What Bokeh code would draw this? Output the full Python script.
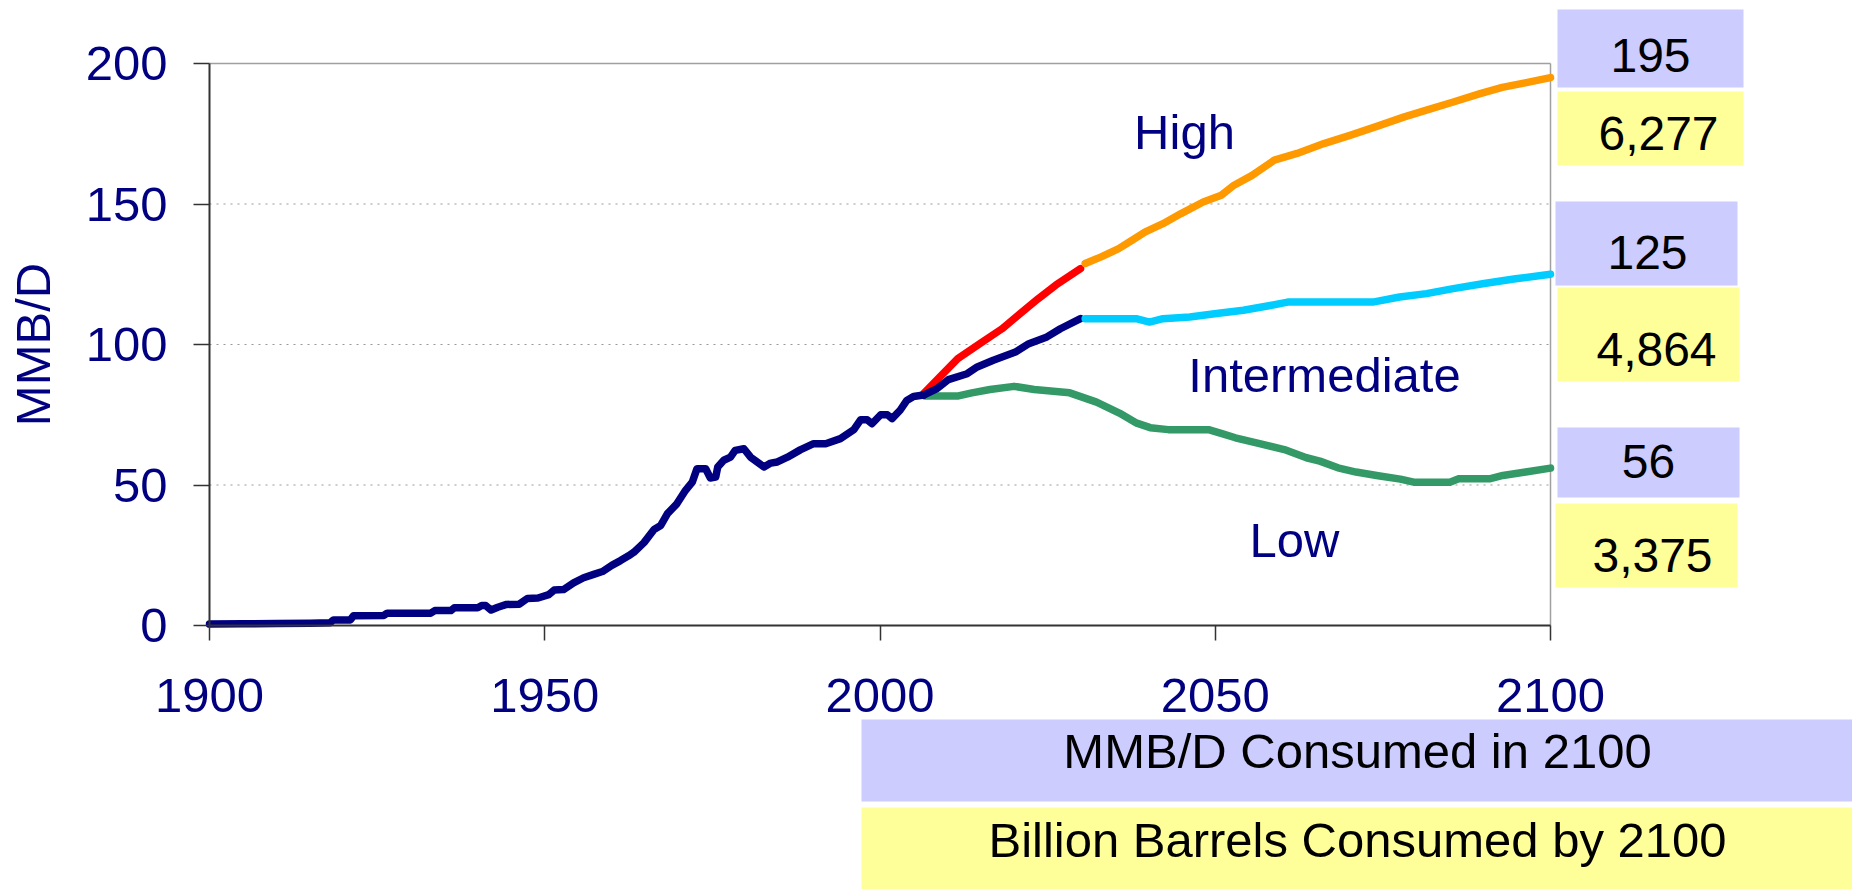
from bokeh.plotting import figure
from bokeh.models import FixedTicker, BoxAnnotation, Label, Range1d, LinearAxis
from bokeh.embed import file_html
from bokeh.resources import INLINE

# ---------------- data ----------------
hist_year = [1900, 1905, 1910, 1915, 1918, 1918.5, 1921, 1921.5, 1926, 1926.5, 1933, 1933.6,
             1936, 1936.5, 1940, 1940.6, 1941.2, 1942, 1943, 1944.3, 1946.2, 1947.4, 1949,
             1950.6, 1951.4, 1952.8, 1954.3, 1955.8, 1957.3, 1958.6, 1960, 1961.3, 1962.5,
             1963.3, 1964.8, 1966.3, 1967.3, 1968.3, 1969.7, 1971, 1972, 1972.7, 1974,
             1974.7, 1975.5, 1975.8, 1976.7, 1977.7, 1978.4, 1979.7, 1980.7, 1982.7, 1983.7,
             1984.7, 1986.2, 1988.1, 1990.1, 1991.9, 1994.1, 1996.1, 1997.1, 1998.1, 1998.8,
             2000.1, 2001.1, 2001.8, 2003, 2004, 2005, 2006.5]
hist_val = [0.5, 0.6, 0.7, 0.8, 1.0, 2.0, 2.0, 3.5, 3.6, 4.4, 4.4, 5.3,
            5.3, 6.3, 6.3, 7.1, 7.1, 5.5, 6.5, 7.5, 7.6, 9.6, 9.8,
            11.0, 12.6, 12.8, 15.2, 17.0, 18.2, 19.2, 21.4, 23.1, 24.8,
            26.1, 29.5, 34.2, 35.6, 39.8, 43.3, 48.1, 51.0, 55.8, 55.8,
            52.5, 52.8, 56.4, 58.8, 59.9, 62.3, 62.9, 59.9, 56.4, 57.8,
            58.2, 59.9, 62.5, 64.7, 64.7, 66.5, 69.7, 73.2, 73.2, 71.8,
            75.0, 75.0, 73.6, 76.6, 80.1, 81.5, 82.0]

# High scenario: rapid growth to 2030 (red), then orange to 2100
high_a_year = [2006.5, 2008.9, 2011.6, 2014.9, 2018.2, 2020.9, 2023.6, 2026.2, 2029.9]
high_a_val = [82.5, 88.4, 95.0, 100.3, 105.6, 111.0, 116.3, 121.1, 127.0]
high_b_year = [2030.6, 2032.9, 2035.6, 2037.6, 2039.5, 2042.2, 2044.9, 2048.2, 2050.9,
               2052.8, 2055.5, 2058.8, 2062.2, 2066.2, 2070.2, 2074.2, 2078.2, 2081.5,
               2085.5, 2089.5, 2092.8, 2096.2, 2100]
high_b_val = [128.8, 131.1, 134.1, 137.1, 140.0, 143.0, 146.6, 150.7, 153.1,
              156.7, 160.2, 165.6, 168.0, 171.5, 174.5, 177.7, 181.0, 183.4,
              186.3, 189.3, 191.5, 193.1, 195.0]

# Intermediate scenario: navy to 2030, then light blue to 2100
int_a_year = [2006.5, 2008.5, 2010.2, 2013.0, 2014.5, 2016.9, 2020.2, 2022.2, 2024.9, 2026.9, 2029.9]
int_a_val = [82.0, 84.3, 87.5, 89.6, 92.0, 94.4, 97.3, 100.3, 102.7, 105.6, 109.2]
int_b_year = [2030.6, 2038.2, 2040.2, 2042.2, 2046.2, 2050.2, 2054.2, 2058.2, 2060.8,
              2073.5, 2077.5, 2081.5, 2085.5, 2090.1, 2094.8, 2100]
int_b_val = [109.2, 109.2, 108.0, 109.2, 109.8, 111.0, 112.2, 113.9, 115.1,
             115.1, 116.9, 118.1, 119.9, 121.7, 123.4, 125.0]

# Low scenario
low_year = [2006.7, 2011.7, 2013.7, 2016.4, 2020.0, 2023.0, 2028.3, 2032.3, 2035.7, 2038.3,
            2040.3, 2043.0, 2049.0, 2051.0, 2053.0, 2056.3, 2060.3, 2063.6, 2065.6, 2068.3,
            2071.0, 2074.3, 2077.6, 2079.6, 2085.0, 2086.3, 2090.9, 2092.9, 2096.3, 2100]
low_val = [81.7, 81.7, 82.8, 84.0, 85.1, 84.0, 82.8, 79.5, 75.6, 72.0,
           70.4, 69.7, 69.7, 68.3, 66.8, 64.9, 62.6, 59.7, 58.5, 56.1,
           54.6, 53.3, 52.1, 51.0, 51.0, 52.2, 52.2, 53.4, 54.6, 56.0]

scenarios = ["High", "Intermediate", "Low"]
mmbd_2100 = [195, 125, 56]
bbl_by_2100 = [6277, 4864, 3375]
x_ticks = [1900, 1950, 2000, 2050, 2100]
y_ticks = [0, 50, 100, 150, 200]
grid_ticks = [50, 100, 150]
y_title = "MMB/D"
caption_rate = "MMB/D Consumed in 2100"
caption_total = "Billion Barrels Consumed by 2100"

# ---------------- style / layout ----------------
FONT = "Liberation Sans"
NAVY = "#000080"
LAV = "#CCCCFF"
YEL = "#FFFF99"
W, H = 1852, 889
# chart area (pixels on the page) that holds 1900..2100 x 0..200
FL, FR, FT, FB = 209, 1550, 63, 625
X0, X1, Y0, Y1 = 1900, 2100, 0, 200


def xd(px):
    """page pixel x -> year"""
    return X0 + (px - FL) * (X1 - X0) / (FR - FL)


def yd(py):
    """page pixel y -> MMB/D"""
    return Y0 + (FB - py) * (Y1 - Y0) / (FB - FT)


p = figure(width=W, height=H, output_backend="svg", toolbar_location=None,
           x_range=Range1d(xd(0), xd(W)), y_range=Range1d(yd(H), yd(0)),
           x_axis_location=None, y_axis_location=None,
           min_border_left=0, min_border_right=0, min_border_top=0, min_border_bottom=0)
p.background_fill_color = "white"
p.border_fill_color = "white"
p.outline_line_color = None
p.grid.visible = False

yaxis = LinearAxis(fixed_location=X0, bounds=(Y0, Y1), ticker=FixedTicker(ticks=y_ticks))
xaxis = LinearAxis(fixed_location=Y0, bounds=(X0, X1), ticker=FixedTicker(ticks=x_ticks))
for ax in (xaxis, yaxis):
    ax.major_label_text_font = FONT
    ax.major_label_text_font_size = "49px"
    ax.major_label_text_color = NAVY
    ax.axis_line_color = "#333333"
    ax.axis_line_width = 2
    ax.major_tick_line_color = "#333333"
    ax.major_tick_line_width = 1.5
    ax.minor_tick_line_color = None
    ax.major_tick_in = 0
yaxis.major_tick_out = 16
xaxis.major_tick_out = 15
yaxis.major_label_standoff = 26
xaxis.major_label_standoff = 38
yaxis.axis_label = y_title
yaxis.axis_label_text_font = FONT
yaxis.axis_label_text_font_size = "49px"
yaxis.axis_label_text_font_style = "normal"
yaxis.axis_label_text_color = NAVY
yaxis.axis_label_standoff = 23
p.add_layout(yaxis, "left")
p.add_layout(xaxis, "below")

# dotted horizontal grid and the grey top / right border of the chart area
p.segment(x0=[X0] * len(grid_ticks), x1=[X1] * len(grid_ticks), y0=grid_ticks, y1=grid_ticks,
          line_color="#999999", line_width=1.2, line_dash="2 5")
p.segment(x0=[X0, X1], x1=[X1, X1], y0=[Y1, Y0], y1=[Y1, Y1],
          line_color="#a0a0a0", line_width=1.5)

LW = 7.5
kw = dict(line_width=LW, line_join="round", line_cap="round")
p.line(high_a_year, high_a_val, line_color="#FF0000", **kw)
p.line(low_year, low_val, line_color="#339966", **kw)
p.line(int_a_year, int_a_val, line_color=NAVY, **kw)
p.line(hist_year, hist_val, line_color=NAVY, **kw)
p.line(high_b_year, high_b_val, line_color="#FF9900", **kw)
p.line(int_b_year, int_b_val, line_color="#00CCFF", **kw)

# scenario names (page pixel centre of the text)
name_pos = [(1184, 131), (1324, 374), (1294, 539)]
for name, (px, py) in zip(scenarios, name_pos):
    p.add_layout(Label(x=xd(px), y=yd(py), text=name, text_align="center",
                       text_baseline="middle", text_font=FONT, text_font_size="49px",
                       text_color=NAVY))

# value boxes at right (page pixel boxes: left, right, top, bottom, text-x, text-y)
rate_boxes = [(1557, 1743, 9, 87, 1650, 55), (1555, 1737, 201, 285, 1647, 252),
              (1557, 1739, 427, 497, 1648, 461)]
total_boxes = [(1557, 1743, 91, 165, 1658, 133), (1557, 1739, 287, 381, 1656, 349),
               (1555, 1737, 503, 587, 1652, 555)]
for (l, r, t, b, tx, ty) in rate_boxes:
    p.add_layout(BoxAnnotation(left=xd(l), right=xd(r), top=yd(t), bottom=yd(b),
                               fill_color=LAV, fill_alpha=1, line_color=None))
for (l, r, t, b, tx, ty) in total_boxes:
    p.add_layout(BoxAnnotation(left=xd(l), right=xd(r), top=yd(t), bottom=yd(b),
                               fill_color=YEL, fill_alpha=1, line_color=None))
for val, (l, r, t, b, tx, ty) in zip(mmbd_2100, rate_boxes):
    p.add_layout(Label(x=xd(tx), y=yd(ty), text=f"{val:,}", text_align="center",
                       text_baseline="middle", text_font=FONT, text_font_size="48px",
                       text_color="black"))
for val, (l, r, t, b, tx, ty) in zip(bbl_by_2100, total_boxes):
    p.add_layout(Label(x=xd(tx), y=yd(ty), text=f"{val:,}", text_align="center",
                       text_baseline="middle", text_font=FONT, text_font_size="48px",
                       text_color="black"))

# caption boxes at bottom
caption_boxes = [(caption_rate, LAV, 719, 801, 750), (caption_total, YEL, 807, 889, 839)]
for txt, col, t, b, ty in caption_boxes:
    p.add_layout(BoxAnnotation(left=xd(861), right=xd(W), top=yd(t), bottom=yd(b),
                               fill_color=col, fill_alpha=1, line_color=None))
    p.add_layout(Label(x=xd(1357), y=yd(ty), text=txt, text_align="center",
                       text_baseline="middle", text_font=FONT, text_font_size="49px",
                       text_color="black"))

open("out.html", "w").write(file_html(p, INLINE))
